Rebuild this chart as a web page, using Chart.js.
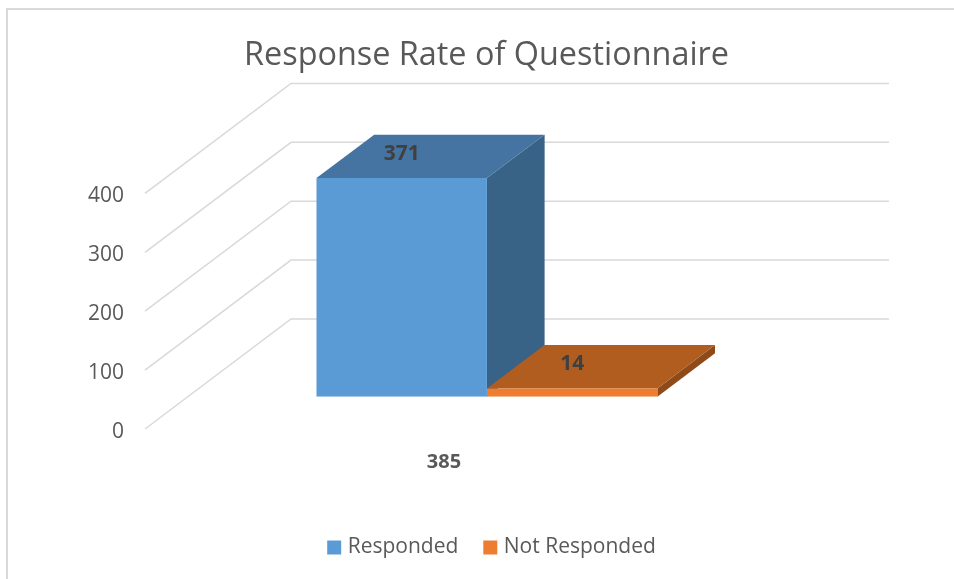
<!DOCTYPE html>
<html>
<head>
<meta charset="utf-8">
<title>Response Rate of Questionnaire</title>
<script src="https://cdn.jsdelivr.net/npm/chart.js@4"></script>
<style>
  html, body { margin: 0; padding: 0; background: #fff; }
  canvas { display: block; }
</style>
</head>
<body>
<canvas id="myChart" width="954" height="579"></canvas>
<script>
const titleText = 'Response Rate of Questionnaire';
const categories = ['385'];
const seriesNames = ['Responded', 'Not Responded'];
const respondedValues = [371];
const notRespondedValues = [14];
const yMin = 0;
const yMax = 400;
const yStep = 100;

const fontName = '"Open Sans", sans-serif';
const gridColor = '#d9d9d9';
// front, top and side colours of each 3D bar
const faceColors = [
  { front: '#5b9bd5', top: '#4674a2', side: '#386386' },
  { front: '#ed7d31', top: '#b15d20', side: '#8e4a18' }
];

// how far the back wall sits from the front plane
const wallDx = 146;
const wallDy = -110;
// where the bars stand on the floor, and how deep they are
const barShift = 0.294;
const barDepth = 0.395;

// floor, walls and the sides of the bars
const depthPlugin = {
  id: 'depth',
  afterLayout(chart) {
    // legend sits a little right of the canvas centre
    chart.legend.left += 14;
  },
  beforeDraw(chart) {
    const ctx = chart.ctx;
    ctx.save();
    ctx.fillStyle = '#fff';
    ctx.fillRect(0, 0, chart.width, chart.height);
    // frame, only left and top are in the picture
    ctx.strokeStyle = gridColor;
    ctx.lineWidth = 2;
    ctx.beginPath();
    ctx.moveTo(7, chart.height);
    ctx.lineTo(7, 9);
    ctx.lineTo(chart.width, 9);
    ctx.stroke();
    ctx.restore();
  },
  beforeDatasetsDraw(chart) {
    const ctx = chart.ctx;
    const area = chart.chartArea;
    const yScale = chart.scales.y;
    ctx.save();
    ctx.strokeStyle = gridColor;
    ctx.lineWidth = 1.5;
    yScale.ticks.forEach(tick => {
      const y = yScale.getPixelForValue(tick.value);
      ctx.beginPath();
      ctx.moveTo(area.left, y);
      ctx.lineTo(area.left + wallDx, y + wallDy);
      ctx.lineTo(area.right + wallDx, y + wallDy);
      ctx.stroke();
    });
    const sx = wallDx * barShift;
    const sy = wallDy * barShift;
    const dx = wallDx * barDepth;
    const dy = wallDy * barDepth;
    chart.data.datasets.forEach((ds, i) => {
      const bar = chart.getDatasetMeta(i).data[0];
      const left = bar.x - bar.width / 2 + sx;
      const right = bar.x + bar.width / 2 + sx;
      const top = bar.y + sy;
      const base = bar.base + sy;
      ctx.fillStyle = faceColors[i].side;
      ctx.beginPath();
      ctx.moveTo(right, top);
      ctx.lineTo(right + dx, top + dy);
      ctx.lineTo(right + dx, base + dy);
      ctx.lineTo(right, base);
      ctx.closePath();
      ctx.fill();
      ctx.fillStyle = faceColors[i].top;
      ctx.beginPath();
      ctx.moveTo(left, top);
      ctx.lineTo(left + dx, top + dy);
      ctx.lineTo(right + dx, top + dy);
      ctx.lineTo(right, top);
      ctx.closePath();
      ctx.fill();
    });
    ctx.restore();
    // the front faces are the chart's own bars, moved back onto the floor
    ctx.save();
    ctx.translate(sx, sy);
  },
  afterDatasetsDraw(chart) {
    const ctx = chart.ctx;
    ctx.restore();
    ctx.save();
    ctx.fillStyle = '#404040';
    ctx.font = 'bold 21px ' + fontName;
    ctx.textAlign = 'center';
    ctx.textBaseline = 'middle';
    chart.data.datasets.forEach((ds, i) => {
      const bar = chart.getDatasetMeta(i).data[0];
      ctx.fillText(ds.data[0], bar.x + wallDx * barShift, bar.y + wallDy * barShift - 24);
    });
    ctx.restore();
  }
};

const ctx = document.getElementById('myChart').getContext('2d');

const myChart = new Chart(ctx, {
  type: 'bar',
  data: {
    labels: categories,
    datasets: [
      { label: seriesNames[0], data: respondedValues, backgroundColor: faceColors[0].front, borderWidth: 0 },
      { label: seriesNames[1], data: notRespondedValues, backgroundColor: faceColors[1].front, borderWidth: 0 }
    ]
  },
  options: {
    responsive: false,
    animation: false,
    layout: { padding: { left: 19, right: 0, top: 0, bottom: 11 } },
    datasets: { bar: { barPercentage: 1, categoryPercentage: 0.57 } },
    scales: {
      x: {
        grid: { display: false },
        border: { display: false },
        ticks: { color: '#595959', font: { family: fontName, size: 20, weight: 'bold' }, padding: 13 },
        afterFit(scale) { scale.height = 79; }
      },
      y: {
        min: yMin,
        max: yMax,
        grid: { display: false },
        border: { display: false },
        ticks: { stepSize: yStep, color: '#595959', font: { family: fontName, size: 21 }, padding: 13, labelOffset: 3 },
        afterFit(scale) { scale.width = 126; }
      },
      // empty axis, only keeps room on the right for the back wall
      spacer: {
        position: 'right',
        grid: { display: false },
        border: { display: false },
        ticks: { display: false },
        afterFit(scale) { scale.width = 211; }
      }
    },
    plugins: {
      title: {
        display: true,
        text: titleText,
        color: '#595959',
        font: { family: fontName, size: 32.4, weight: 'normal' },
        padding: { top: 36, bottom: 118.5 }
      },
      legend: {
        position: 'bottom',
        labels: {
          color: '#595959',
          font: { family: fontName, size: 21 },
          usePointStyle: true,
          pointStyle: 'rect',
          boxWidth: 6,
          boxHeight: 14,
          padding: 29
        }
      },
      tooltip: { enabled: false }
    }
  },
  plugins: [depthPlugin]
});
</script>
</body>
</html>
